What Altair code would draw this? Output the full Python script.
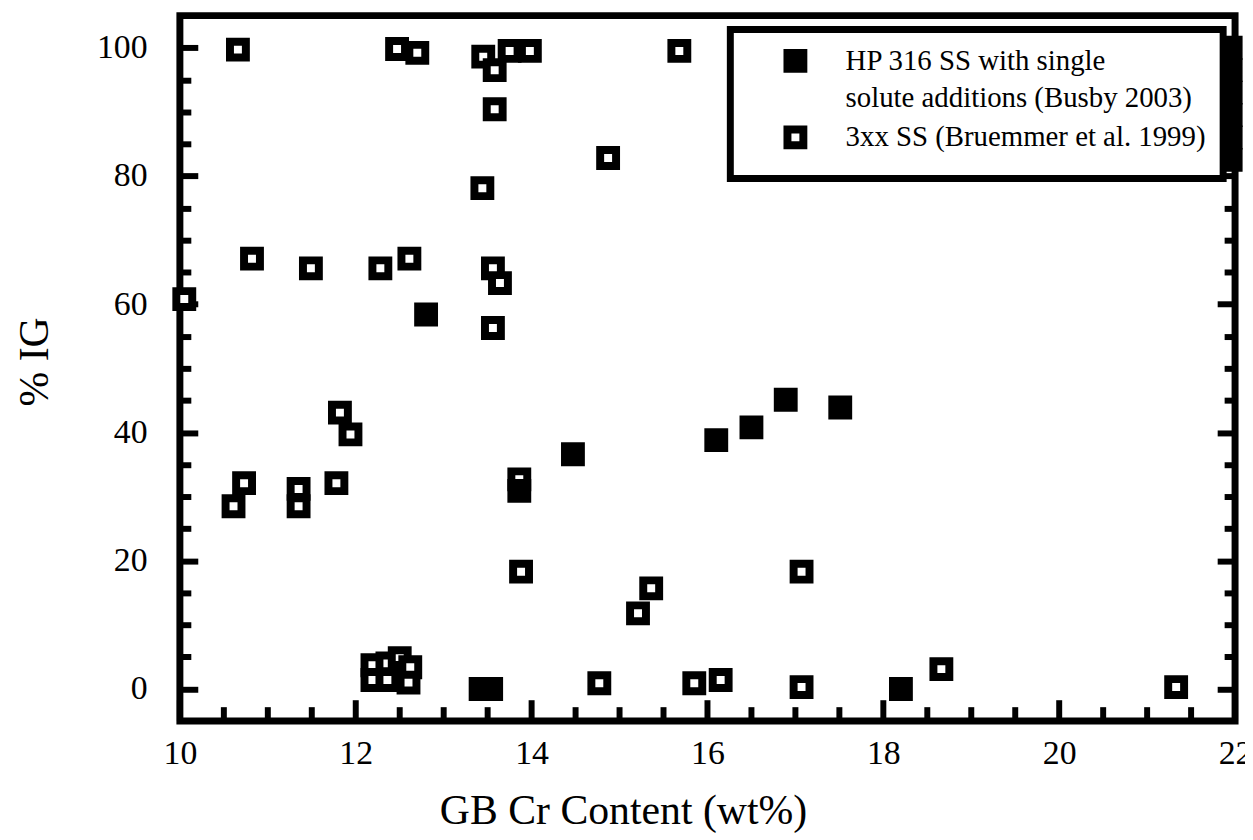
import altair as alt
import pandas as pd

# Busby 2003: HP 316 SS with single solute additions (filled squares)
busby_x = [12.80, 13.86, 14.47, 16.10, 16.50, 16.89, 17.51, 13.42, 13.54, 18.20,
           21.95, 21.95, 21.95, 21.95, 21.95, 21.95]
busby_y = [58.4, 30.9, 36.6, 38.8, 40.8, 45.1, 43.9, 0.0, 0.0, 0.0,
           100.0, 96.5, 93.0, 89.5, 86.0, 82.5]

# Bruemmer et al. 1999: 3xx SS (open squares)
bru_x = [10.66, 12.47, 12.70, 13.75, 13.98, 13.45, 13.58, 13.58, 15.68, 14.87,
         13.44, 10.82, 11.49, 12.28, 12.61, 13.56, 13.64, 13.56, 10.05, 11.82,
         11.94, 10.73, 10.61, 11.35, 11.35, 11.78, 13.86, 13.88, 12.19, 12.36,
         12.19, 12.36, 12.50, 12.55, 12.62, 12.60, 14.77, 15.36, 15.21, 15.85,
         16.15, 17.07, 17.07, 18.66, 21.33]
bru_y = [99.7, 99.8, 99.2, 99.5, 99.5, 98.6, 96.5, 90.4, 99.5, 82.8,
         78.1, 67.1, 65.6, 65.6, 67.1, 65.6, 63.3, 56.3, 60.8, 43.1,
         39.7, 32.1, 28.5, 31.2, 28.5, 32.1, 32.7, 18.3, 3.7, 4.0,
         1.4, 1.4, 4.8, 2.5, 3.4, 1.0, 0.9, 15.7, 11.8, 0.9,
         1.4, 18.3, 0.3, 3.1, 0.3]

label_busby = "HP 316 SS with single|solute additions (Busby 2003)"
label_bru = "3xx SS (Bruemmer et al. 1999)"

x_major = [10, 12, 14, 16, 18, 20, 22]
x_minor = [10.5, 11, 11.5, 12.5, 13, 13.5, 14.5, 15, 15.5, 16.5, 17, 17.5,
           18.5, 19, 19.5, 20.5, 21, 21.5]
y_ticks = [0, 5, 10, 15, 20, 25, 30, 35, 40, 45, 50, 55, 60, 65, 70, 75, 80,
           85, 90, 95, 100]

df = pd.DataFrame({
    "x": bru_x + busby_x,
    "y": bru_y + busby_y,
    "series": [label_bru] * len(bru_x) + [label_busby] * len(busby_x),
})
df_major = pd.DataFrame({"t": x_major})
df_minor = pd.DataFrame({"t": x_minor})

W, H = 1062, 710
FONT = "Liberation Serif"
Y_MIN, Y_MAX = -5, 105
xs = alt.Scale(domain=[10, 22], nice=False, zero=False)
ys = alt.Scale(domain=[Y_MIN, Y_MAX], nice=False, zero=False)
unit = H / (Y_MAX - Y_MIN)  # pixels per % IG, used only for tick lengths
MAJOR_LEN, MINOR_LEN = 21, 14

# negative tick sizes draw the y ticks inward, into the plot
y_tick_size = {"condition": {"test": "datum.value % 20 === 0", "value": -18}, "value": -11}

points = alt.Chart(df).mark_square(
    size=256, stroke="black", strokeWidth=8, opacity=1
).encode(
    x=alt.X("x:Q", scale=xs, axis=alt.Axis(
        orient="bottom", values=x_major, ticks=False, tickSize=0,
        labelPadding=16, labelFlush=False,
        title="GB Cr Content (wt%)", titleX=446, titleY=90, titleAlign="center",
        titleBaseline="middle")),
    y=alt.Y("y:Q", scale=ys, axis=alt.Axis(
        orient="left", values=y_ticks, tickSize=y_tick_size, tickWidth=6,
        tickColor="black", labelPadding=51, labelFlush=False,
        labelExpr="datum.value % 20 === 0 ? datum.label : ''",
        title="% IG", titleX=-146, titleY=348, titleAngle=270,
        titleAlign="center", titleBaseline="middle")),
    fill=alt.Fill("series:N",
                  scale=alt.Scale(domain=[label_busby, label_bru], range=["black", "white"]),
                  legend=alt.Legend(title=None, labelExpr="split(datum.label, '|')")),
)

# inward x ticks standing on the bottom frame (small rects placed by the scales)
major_ticks = alt.Chart(df_major).mark_tick(
    color="black", orient="vertical", thickness=6, size=MAJOR_LEN, opacity=1
).encode(
    x=alt.X("t:Q", scale=xs, axis=None),
    y=alt.YDatum(datum=Y_MIN + MAJOR_LEN / 2 / unit, scale=ys, axis=None),
)
minor_ticks = alt.Chart(df_minor).mark_tick(
    color="black", orient="vertical", thickness=6, size=MINOR_LEN, opacity=1
).encode(
    x=alt.X("t:Q", scale=xs, axis=None),
    y=alt.YDatum(datum=Y_MIN + MINOR_LEN / 2 / unit, scale=ys, axis=None),
)

# right-hand y ticks, pointing inward from the right frame
right_ticks = alt.Chart(df_minor).mark_tick(opacity=0).encode(
    x=alt.X("t:Q", scale=xs, axis=None),
    y=alt.YDatum(datum=50, scale=ys, axis=alt.Axis(
        orient="right", values=y_ticks, labels=False, title=None,
        tickSize=y_tick_size, tickWidth=6, tickColor="black")),
)

chart = alt.layer(points, major_ticks, minor_ticks, right_ticks).resolve_axis(
    x="independent", y="independent"
).properties(
    width=W, height=H,
    padding={"left": 173, "top": 5, "right": 10, "bottom": 117},
    autosize=alt.AutoSizeParams(type="none"),
).configure(
    style={"guide-label": {"lineHeight": 37}}
).configure_view(
    stroke="black", strokeWidth=7
).configure_axis(
    domain=False, grid=False, labelFont=FONT, labelFontSize=34, labelColor="black",
    titleFont=FONT, titleFontSize=42, titleFontWeight="normal", titleColor="black",
).configure_legend(
    orient="none", legendX=554, legendY=14,
    strokeColor="black", strokeWidth=7, fillColor="white", padding=17,
    labelFont=FONT, labelFontSize=29, labelColor="black", labelLimit=800,
    labelOffset=36, symbolOffset=34, rowPadding=0,
    symbolType="square", symbolSize=256, symbolStrokeWidth=8,
    symbolStrokeColor="black",
)

chart.save("out.html", embed_options={"renderer": "svg", "actions": False})
